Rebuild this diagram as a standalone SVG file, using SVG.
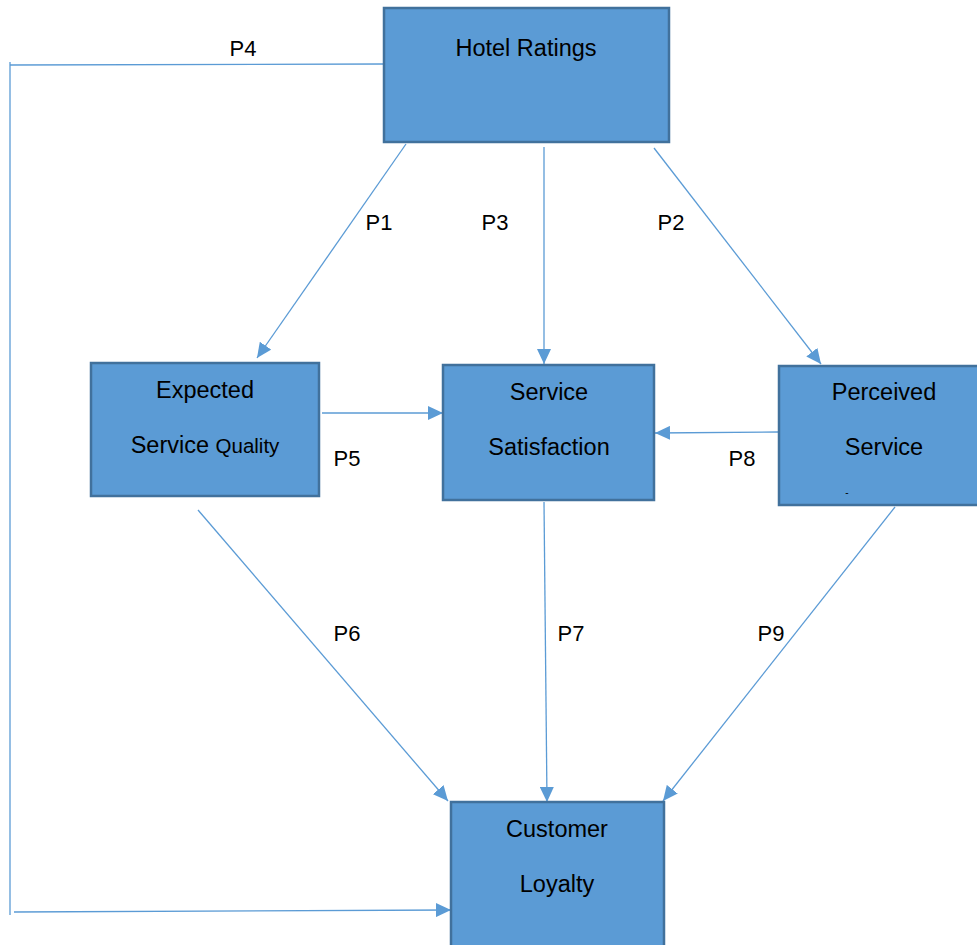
<svg xmlns="http://www.w3.org/2000/svg" width="977" height="945" viewBox="0 0 977 945">
<style>
.box{fill:#5b9bd5;stroke:#41719c;stroke-width:2.5}
.t{font-family:"Liberation Sans",Arial,sans-serif;font-size:23.5px;fill:#000;text-anchor:middle}
.lbl{font-family:"Liberation Sans",Arial,sans-serif;font-size:22px;fill:#000;text-anchor:middle}
.c{stroke:#5b9bd5;stroke-width:1.3;fill:none}
</style>
<defs>
<marker id="ah" markerUnits="userSpaceOnUse" markerWidth="16" markerHeight="14" refX="15" refY="7" orient="auto">
<path d="M0,0 L15,7 L0,14 Z" fill="#5b9bd5"/>
</marker>
</defs>
<rect width="977" height="945" fill="#fff"/>
<g id="connectors">
<polyline class="c" points="384,64 10,65"/>
<line class="c" x1="10" y1="62" x2="10" y2="915"/>
<line class="c" x1="14" y1="912" x2="451" y2="910" marker-end="url(#ah)"/>
<line class="c" x1="406" y1="144" x2="257" y2="358" marker-end="url(#ah)"/>
<line class="c" x1="544" y1="147" x2="544" y2="364" marker-end="url(#ah)"/>
<line class="c" x1="654" y1="148" x2="821" y2="364" marker-end="url(#ah)"/>
<line class="c" x1="322" y1="413" x2="443" y2="413" marker-end="url(#ah)"/>
<line class="c" x1="779" y1="432" x2="655" y2="433" marker-end="url(#ah)"/>
<line class="c" x1="198" y1="510" x2="448" y2="801" marker-end="url(#ah)"/>
<line class="c" x1="544" y1="502" x2="547" y2="802" marker-end="url(#ah)"/>
<line class="c" x1="895" y1="507" x2="663" y2="801" marker-end="url(#ah)"/>
</g>
<g id="labels">
<text class="lbl" x="243" y="56">P4</text>
<text class="lbl" x="379" y="230">P1</text>
<text class="lbl" x="495" y="230">P3</text>
<text class="lbl" x="671" y="230">P2</text>
<text class="lbl" x="347" y="466">P5</text>
<text class="lbl" x="742" y="466">P8</text>
<text class="lbl" x="347" y="641">P6</text>
<text class="lbl" x="571" y="641">P7</text>
<text class="lbl" x="771" y="641">P9</text>
</g>
<g id="hotel-ratings">
<rect class="box" x="384" y="8" width="285" height="134"/>
<text class="t" x="526" y="56">Hotel Ratings</text>
</g>
<g id="expected-service-quality">
<rect class="box" x="91" y="363" width="228" height="133"/>
<text class="t" x="205" y="398">Expected</text>
<text class="t" x="205" y="453">Service <tspan style="font-size:20.5px">Quality</tspan></text>
</g>
<g id="service-satisfaction">
<rect class="box" x="443" y="365" width="211" height="135"/>
<text class="t" x="549" y="400">Service</text>
<text class="t" x="549" y="455">Satisfaction</text>
</g>
<g id="perceived-service">
<rect class="box" x="779" y="366" width="210" height="139"/>
<text class="t" x="884" y="400">Perceived</text>
<text class="t" x="884" y="455">Service</text>
<text class="t" x="847" y="496" style="font-size:10px">-</text>
</g>
<g id="customer-loyalty">
<rect class="box" x="451" y="802" width="213" height="155"/>
<text class="t" x="557" y="837">Customer</text>
<text class="t" x="557" y="892">Loyalty</text>
</g>
</svg>
